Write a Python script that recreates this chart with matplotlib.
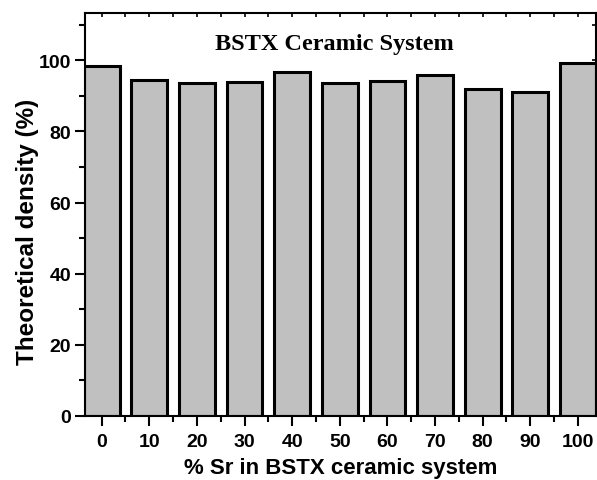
import matplotlib
matplotlib.use('Agg')
import matplotlib.pyplot as plt
from matplotlib.ticker import MultipleLocator

# theoretical density of the BSTX ceramics vs. Sr content
sr_percent = [0, 10, 20, 30, 40, 50, 60, 70, 80, 90, 100]
density = [98.4, 94.6, 93.5, 93.9, 96.6, 93.7, 94.3, 95.9, 91.8, 91.1, 99.2]

BAR_FILL = '#c0c0c0'

plt.rcParams['font.family'] = ['Liberation Sans', 'DejaVu Sans']

fig = plt.figure(figsize=(5.97, 4.81), dpi=100)
ax = fig.add_axes([85 / 597, 1 - 417 / 481, 511 / 597, 403 / 481])

ax.bar(sr_percent, density, width=7.5, color=BAR_FILL,
       edgecolor='black', linewidth=2.2)

ax.set_xlim(-3.5, 103.8)
ax.set_ylim(0, 113.3)

ax.xaxis.set_major_locator(MultipleLocator(10))
ax.xaxis.set_minor_locator(MultipleLocator(5))
ax.yaxis.set_major_locator(MultipleLocator(20))
ax.yaxis.set_minor_locator(MultipleLocator(10))

ax.tick_params(which='both', direction='out', top=False, right=False, width=1.5)
ax.tick_params(which='major', length=7, labelsize=14, pad=3)
ax.tick_params(axis='x', which='major', pad=5)
ax.tick_params(which='minor', length=4)
for lbl in ax.get_xticklabels() + ax.get_yticklabels():
    lbl.set_fontweight('bold')

# short inward ticks on the top and right edges
top = ax.secondary_xaxis('top')
top.xaxis.set_major_locator(MultipleLocator(10))
top.xaxis.set_minor_locator(MultipleLocator(5))
top.tick_params(which='both', direction='in', labeltop=False, width=1.2, length=3)
right = ax.secondary_yaxis('right')
right.yaxis.set_major_locator(MultipleLocator(10))
right.tick_params(which='both', direction='in', labelright=False, width=1.2, length=3)
for sec in (top, right):
    for spine in sec.spines.values():
        spine.set_visible(False)

for spine in ax.spines.values():
    spine.set_linewidth(1.5)

ax.set_xlabel('% Sr in BSTX ceramic system', fontsize=16, fontweight='bold', labelpad=5)
ax.set_ylabel('Theoretical density (%)', fontsize=17.5, fontweight='bold')
ax.yaxis.set_label_coords(-0.09, 0.459)

ax.text(0.488, 0.925, 'BSTX Ceramic System', transform=ax.transAxes,
        ha='center', va='center', fontsize=17.5, fontweight='bold',
        family=['Liberation Serif', 'DejaVu Serif'])

fig.savefig('out.png', dpi=100)
